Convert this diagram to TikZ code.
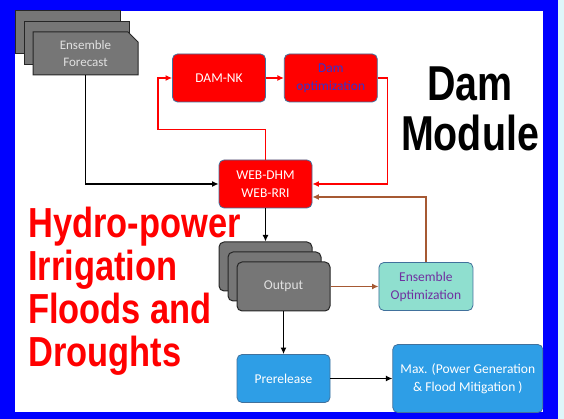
\documentclass[tikz,border=0pt]{standalone}
\usepackage{fontspec}
\setmainfont{Carlito}
\newfontfamily\headfont{Liberation Sans}
\usetikzlibrary{arrows.meta,positioning,shapes.misc}

\definecolor{frameblue}{RGB}{0,0,255}
\definecolor{paleaqua}{RGB}{222,246,250}
\definecolor{boxred}{RGB}{255,0,0}
\definecolor{edgeblue}{RGB}{65,113,156}
\definecolor{cardgray}{RGB}{118,118,118}
\definecolor{cardtext}{RGB}{225,225,225}
\definecolor{mint}{RGB}{143,223,207}
\definecolor{skyblue}{RGB}{46,158,230}
\definecolor{rust}{RGB}{166,89,51}
\definecolor{optpurple}{RGB}{112,48,160}
\definecolor{damblue}{RGB}{51,51,204}

\begin{document}
\begin{tikzpicture}[
    x=1pt, y=1pt,
    box/.style={
        draw=edgeblue,
        line width=0.8pt,
        rounded corners=5pt,
        align=center,
        inner sep=0pt,
        font=\fontsize{13.5}{18}\selectfont,
        minimum width=93pt,
        minimum height=48pt
    },
    redbox/.style={box, fill=boxred, text=white},
    bluebox/.style={box, fill=skyblue, text=white},
    card/.style={
        box,
        draw=black!85,
        line width=1pt,
        fill=cardgray,
        text=cardtext,
        minimum height=49pt
    },
    snipcard/.style={
        card,
        rounded corners=0pt,
        chamfered rectangle,
        chamfered rectangle corners=north east,
        chamfered rectangle xsep=5pt,
        chamfered rectangle ysep=5pt,
        minimum width=105pt,
        minimum height=43pt,
        font=\fontsize{13}{17.5}\selectfont
    },
    line/.style={-{Latex[length=6.5pt,width=6pt]}, line width=1.5pt},
    redline/.style={line, draw=boxred},
    rustline/.style={line, draw=rust},
    bigtext/.style={
        inner sep=0pt,
        xscale=0.82,
        font=\headfont\bfseries
    }
]

% frame
\useasboundingbox (0,0) rectangle (564,419);
\fill[paleaqua] (0,0) rectangle (564,419);
\fill[frameblue] (0,0) rectangle (558,419);
\fill[white] (15,7) rectangle (543,408);

% headings
\node[bigtext, anchor=north west, align=left, text=boxred,
      font=\headfont\bfseries\fontsize{42}{43}\selectfont] (uses) at (28,212)
    {Hydro-power\\Irrigation\\Floods and\\Droughts};
\node[bigtext, align=center, xscale=0.98,
      font=\headfont\bfseries\fontsize{49}{50}\selectfont] (title) at (470,310)
    {Dam\\Module};

% ensemble forecast stack
\node[snipcard] (fc1) at (67.5,386.5) {};
\node[snipcard] (fc2) at (76.5,376) {};
\node[snipcard] (forecast) at (85.5,365.5) {Ensemble\\Forecast};

% dam loop
\node[redbox] (damnk) at (219,341) {DAM-NK};
\node[redbox, right=18pt of damnk, text=damblue] (damopt) {Dam\\optimization};
\node[redbox] (webdhm) at (265.5,235) {WEB-DHM\\WEB-RRI};

% output stack
\node[card] (out1) at (265.5,152.5) {};
\node[card] (out2) at (274.5,142.5) {};
\node[card] (output) at (283.5,132.5) {Output};
\node[box, right=48pt of output, fill=mint, text=optpurple,
      minimum width=94pt] (ensopt) {Ensemble\\Optimization};

\node[bluebox] (prerelease) at (283.5,40.5) {Prerelease};
\node[bluebox, right=62pt of prerelease, minimum width=150pt,
      minimum height=68pt] (maxgoal) {Max. (Power Generation\\\& Flood Mitigation )};

\draw[line] (forecast.south) |- (webdhm.west);
\draw[redline] (webdhm.north) -- ++(0,30) -| ([xshift=-14pt]damnk.west) -- (damnk.west);
\draw[redline] (damnk) -- (damopt);
\draw[redline] (damopt.east) -- ++(10,0) |- (webdhm.east);
\draw[rustline] (ensopt.north) |- ([yshift=-13pt]webdhm.east);
\draw[line] (webdhm.south) -- (out1.north);
\draw[rustline] (output) -- (ensopt);
\draw[line] (output.south) -- (prerelease.north);
\draw[line] (prerelease) -- (maxgoal);

\end{tikzpicture}
\end{document}
